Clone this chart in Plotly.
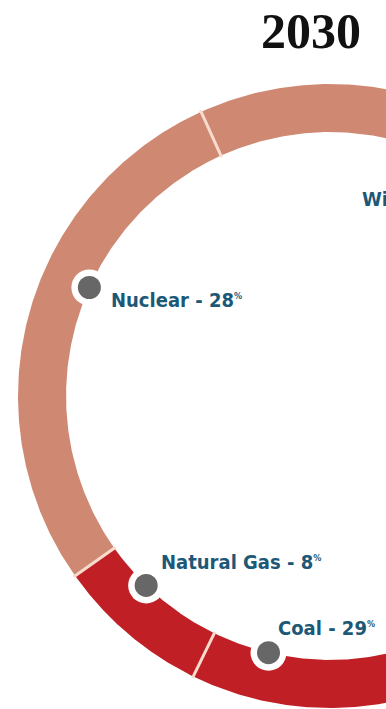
import numpy as np
import plotly.graph_objects as go

# ---- data -------------------------------------------------------------
year = "2030"
categories = ["Nuclear", "Natural Gas", "Coal", "Wind"]
shares = [28, 8, 29, 35]

# ---- styling ----------------------------------------------------------
W, H = 386, 709                  # page size in px
CX, CY = 330, 396                # ring centre in page px
PX = 312                         # px per unit of outer radius
R_OUT, R_IN = 1.0, 0.846
START_DEG = 114.4                # first slice starts here, going counter-clockwise

SALMON = "#CF8872"
DARK_RED = "#BF1F25"
slice_colors = [SALMON, DARK_RED, DARK_RED, SALMON]
divider_color = "#F7DCCD"
label_color = "#1D5877"
dot_color = "#676767"
label_font = "Liberation Sans Narrow, DejaVu Sans Condensed, Arial Narrow, sans-serif"
label_size = 20

# where each marker dot sits along its slice (0 = slice start, 1 = slice end)
dot_fraction = [0.41, 0.37, 0.12, 0.5]
# pixel offset of each label from its dot (x right, y up)
label_shift = [(20, -12), (13, 23), (7, 25)]

fig = go.Figure()

total = float(sum(shares))
bounds = START_DEG + np.concatenate([[0.0], np.cumsum(shares)]) / total * 360.0

# ring slices
for i, cat in enumerate(categories):
    t = np.radians(np.linspace(bounds[i], bounds[i + 1], 240))
    xs = np.concatenate([R_OUT * np.cos(t), R_IN * np.cos(t[::-1])])
    ys = np.concatenate([R_OUT * np.sin(t), R_IN * np.sin(t[::-1])])
    fig.add_trace(go.Scatter(
        x=xs, y=ys, mode="lines", fill="toself",
        fillcolor=slice_colors[i], line=dict(width=0, color=slice_colors[i]),
        hoverinfo="skip", showlegend=False, name=cat,
    ))

# thin light dividers between slices
dx, dy = [], []
for b in bounds[:-1]:
    a = np.radians(b)
    dx += [(R_IN - 0.005) * np.cos(a), (R_OUT + 0.005) * np.cos(a), None]
    dy += [(R_IN - 0.005) * np.sin(a), (R_OUT + 0.005) * np.sin(a), None]
fig.add_trace(go.Scatter(x=dx, y=dy, mode="lines",
                         line=dict(color=divider_color, width=3),
                         hoverinfo="skip", showlegend=False))

# marker dots on the inner edge of the ring
dot_ang = [np.radians(bounds[i] + f * (bounds[i + 1] - bounds[i]))
           for i, f in enumerate(dot_fraction)]
dot_x = [R_IN * np.cos(a) for a in dot_ang]
dot_y = [R_IN * np.sin(a) for a in dot_ang]
fig.add_trace(go.Scatter(x=dot_x, y=dot_y, mode="markers",
                         marker=dict(size=36, color="white", line=dict(width=0)),
                         hoverinfo="skip", showlegend=False))
fig.add_trace(go.Scatter(x=dot_x, y=dot_y, mode="markers",
                         marker=dict(size=23, color=dot_color, line=dict(width=0)),
                         hoverinfo="skip", showlegend=False))


def label_text(cat, val):
    return f"{cat} - {val}<sup><span style='font-size:9px'>%</span></sup>"


annotations = []
for i, (cat, val) in enumerate(zip(categories, shares)):
    if i < len(label_shift):
        sx, sy = label_shift[i]
        annotations.append(dict(
            x=dot_x[i], y=dot_y[i], xref="x", yref="y",
            xanchor="left", yanchor="middle", xshift=sx, yshift=sy,
            text=label_text(cat, val), showarrow=False,
            font=dict(family=label_font, size=label_size, color=label_color, weight="bold"),
        ))

# the Wind label sits left of its dot, near the top-right of the ring
annotations.append(dict(
    x=360 / W, y=1 - 199 / H, xref="paper", yref="paper",
    xanchor="left", yanchor="middle",
    text=label_text(categories[3], shares[3]), showarrow=False,
    font=dict(family=label_font, size=label_size, color=label_color, weight="bold"),
))

# year heading
annotations.append(dict(
    x=311 / W, y=1 - 31 / H, xref="paper", yref="paper",
    xanchor="center", yanchor="middle", text=year, showarrow=False,
    font=dict(family="Liberation Serif, Times New Roman, serif", size=50,
              color="#111111", weight="bold"),
))

fig.update_layout(
    width=W, height=H,
    margin=dict(l=0, r=0, t=0, b=0),
    paper_bgcolor="white", plot_bgcolor="white",
    xaxis=dict(range=[(0 - CX) / PX, (W - CX) / PX], visible=False, fixedrange=True),
    yaxis=dict(range=[(CY - H) / PX, CY / PX], visible=False, fixedrange=True),
    annotations=annotations,
)

fig.write_html("out.html")
